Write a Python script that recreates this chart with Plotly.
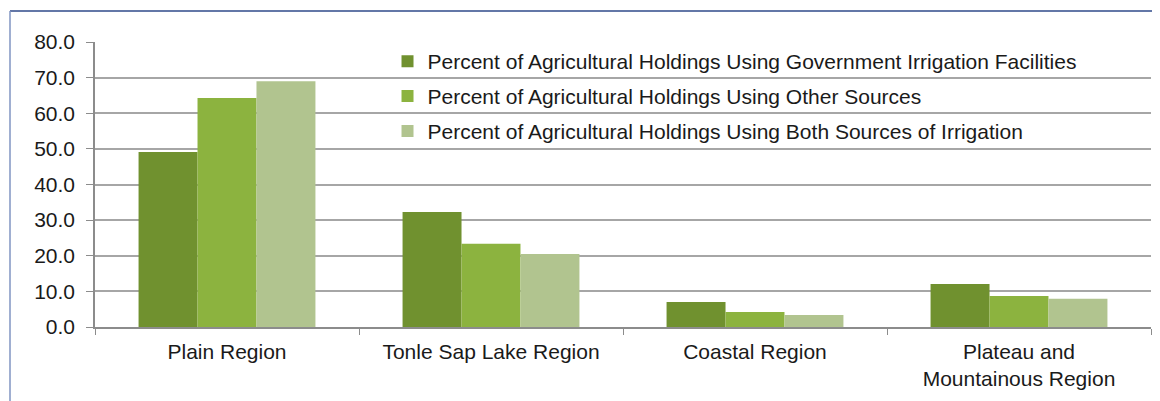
import plotly.graph_objects as go

# Data
regions = ["Plain Region", "Tonle Sap Lake Region", "Coastal Region",
           "Plateau and<br>Mountainous Region"]
govt_irrigation = [49.1, 32.3, 7.0, 12.1]
other_sources = [64.3, 23.4, 4.2, 8.7]
both_sources = [69.0, 20.5, 3.4, 7.9]

series_names = [
    "Percent of Agricultural Holdings Using Government Irrigation Facilities",
    "Percent of Agricultural Holdings Using Other Sources",
    "Percent of Agricultural Holdings Using Both Sources of Irrigation",
]
series_values = [govt_irrigation, other_sources, both_sources]
series_colors = ["#70912f", "#8cb33f", "#b1c48f"]

# page has an 8px body margin, so the figure is 8px smaller than the window
W, H = 1152, 393
ML, MR, MT, MB = 87, 9, 34, 74

fig = go.Figure()
for i, (name, vals, col) in enumerate(zip(series_names, series_values, series_colors)):
    fig.add_trace(go.Bar(
        x=regions, y=vals, name=name,
        marker=dict(color=col, line=dict(width=0)),
        legendgroup=f"g{i}",
    ))

pw = W - ML - MR
ph = H - MT - MB

# outer frame (top dark blue, left lighter blue)
fy = 1 + (MT - 3) / ph
fx = (2 - ML) / pw
fig.add_shape(type="line", xref="paper", yref="paper",
              x0=fx, x1=(W - ML) / pw, y0=fy, y1=fy,
              line=dict(color="#2f4a8a", width=1.5))
fig.add_shape(type="line", xref="paper", yref="paper",
              x0=fx, x1=fx, y0=fy, y1=-MB / ph,
              line=dict(color="#8194c2", width=1.5))

fig.update_layout(
    width=W, height=H,
    margin=dict(l=ML, r=MR, t=MT, b=MB),
    paper_bgcolor="white", plot_bgcolor="white",
    barmode="group", bargap=0.33, bargroupgap=0,
    font=dict(family="Liberation Sans, Arial, sans-serif", size=21, color="#1a1a1a"),
    showlegend=True,
    legend=dict(x=0.277, y=1.003, xanchor="left", yanchor="top",
                bgcolor="rgba(0,0,0,0)", tracegroupgap=4.5,
                font=dict(size=21, color="#1a1a1a"),
                itemwidth=30),
)
fig.update_yaxes(range=[0, 80], dtick=10, tickformat=".1f",
                 showgrid=True, gridcolor="#a6a6a6", gridwidth=1.5,
                 showline=True, linecolor="#8c8c8c", linewidth=1.5,
                 ticks="outside", ticklen=7, tickcolor="#8c8c8c",
                 ticklabelstandoff=7, zeroline=False)
fig.update_xaxes(showline=True, linecolor="#8c8c8c", linewidth=1.5,
                 ticks="outside", tickson="boundaries", ticklen=6,
                 tickcolor="#8c8c8c", showgrid=False,
                 ticklabelstandoff=5)

fig.write_html("out.html")
